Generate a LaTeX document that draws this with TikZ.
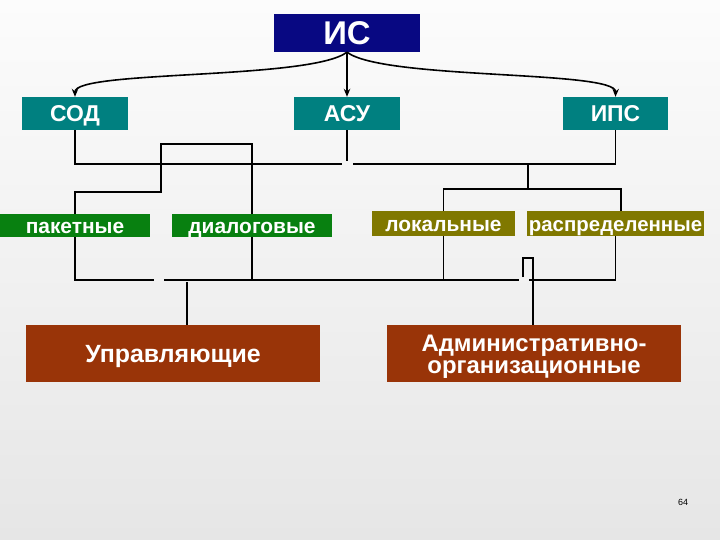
\documentclass[tikz,border=0pt]{standalone}
\usepackage{fontspec}
\setmainfont{Liberation Sans}
\usetikzlibrary{arrows.meta}
\definecolor{navyc}{RGB}{8,8,130}
\definecolor{tealc}{RGB}{0,128,128}
\definecolor{greenc}{RGB}{8,128,16}
\definecolor{olivec}{RGB}{128,120,0}
\definecolor{brownc}{RGB}{153,52,8}
\definecolor{bgtop}{RGB}{252,252,252}
\definecolor{bgbot}{RGB}{230,230,230}
\tikzset{
  box/.style={rectangle, inner sep=0pt, text=white, font=\bfseries, align=center},
  oneline/.style={text height=#1, text depth=0pt},
  conn/.style={draw=black, line width=1.6bp},
  arr/.style={conn, -{Stealth[length=8bp,width=6.5bp]}},
}
\begin{document}
\begin{tikzpicture}[x=1bp,y=-1bp]
\shade[top color=bgtop, bottom color=bgbot] (0,0) rectangle (720,540);
\useasboundingbox (0,0) rectangle (720,540);

% nodes
\node[box, oneline=23.8pt, fill=navyc, minimum width=146bp, minimum height=38bp, font=\bfseries\fontsize{33}{36}\selectfont] (is) at (347,33) {ИС};
\node[box, oneline=16.6pt, fill=tealc, minimum width=106bp, minimum height=33bp, font=\bfseries\fontsize{23}{26}\selectfont] (sod) at (75,113.5) {СОД};
\node[box, oneline=16.6pt, fill=tealc, minimum width=106bp, minimum height=33bp, font=\bfseries\fontsize{23}{26}\selectfont] (asu) at (347,113.5) {АСУ};
\node[box, oneline=16.6pt, fill=tealc, minimum width=105bp, minimum height=33bp, font=\bfseries\fontsize{23}{26}\selectfont] (ips) at (615.5,113.5) {ИПС};

\node[box, oneline=15.1pt, fill=greenc, minimum width=150bp, minimum height=23bp, font=\bfseries\fontsize{21}{23}\selectfont] (pak) at (75,225.5) {пакетные};
\node[box, oneline=15.1pt, fill=greenc, minimum width=160bp, minimum height=23bp, font=\bfseries\fontsize{21}{23}\selectfont] (dia) at (252,225.5) {диалоговые};
\node[box, oneline=15.1pt, fill=olivec, minimum width=143bp, minimum height=25bp, font=\bfseries\fontsize{21}{23}\selectfont] (lok) at (443.5,223.5) {локальные};
\node[box, oneline=15.1pt, fill=olivec, minimum width=177bp, minimum height=25bp, font=\bfseries\fontsize{20.5}{23}\selectfont] (ras) at (615.5,223.5) {распределенные};

\node[box, oneline=18pt, fill=brownc, minimum width=294bp, minimum height=57bp, font=\bfseries\fontsize{25}{27}\selectfont] (upr) at (173,353.5) {Управляющие};
\node[box, fill=brownc, minimum width=294bp, minimum height=57bp, font=\bfseries\fontsize{24}{23}\selectfont] (adm) at (534,353.5) {\rule{0pt}{23pt}Административно-\\организационные};

\node[font=\fontsize{9}{10}\selectfont] (pg) at (683,502) {64};

% arrows from ИС
\draw[arr] (is.south) .. controls (310,80) and (75,70) .. (sod.north);
\draw[arr] (is.south) -- (asu.north);
\draw[arr] (is.south) .. controls (384,80) and (616,70) .. (ips.north);

% coordinates
\coordinate (h1) at (342,164);
\coordinate (h2) at (353,164);
\coordinate (a1) at (347,161);
\coordinate (m1) at (528,164);
\coordinate (m2) at (528,189);
\coordinate (r1) at (621,189);
\coordinate (l1) at (161,192);
\coordinate (l2) at (161,144);
\coordinate (b1) at (154,280);
\coordinate (b2) at (164,280);
\coordinate (b3) at (519,280);
\coordinate (b4) at (529,280);
\coordinate (u1) at (187,282);
\coordinate (s1) at (523,277);
\coordinate (s2) at (533,258);

% upper connectors
\draw[conn] (sod.south) |- (h1);
\draw[conn] (h2) -| (ips.south);
\draw[conn] (asu.south) -- (a1);
\draw[conn] (m1) -- (m2);
\draw[conn] (lok.north) |- (r1) -- (r1 |- ras.north);
\draw[conn] (pak.north) |- (l1) -- (l2) -| (dia.north);

% lower connectors
\draw[conn] (pak.south) |- (b1);
\draw[conn] (b2) -- (b3);
\draw[conn] (ras.south) |- (b4);
\draw[conn] (dia.south) -- (dia.south |- b2);
\draw[conn] (lok.south) -- (lok.south |- b2);
\draw[conn] (u1) -- (u1 |- upr.north);
\draw[conn] (s1) |- (s2) -- (s2 |- adm.north);
\end{tikzpicture}
\end{document}
